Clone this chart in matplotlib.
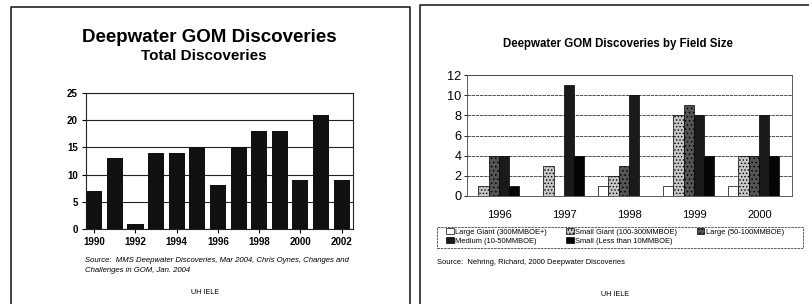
import numpy as np
import matplotlib

matplotlib.use('Agg')
import matplotlib.pyplot as plt
from matplotlib.lines import Line2D
from matplotlib.patches import Patch, Rectangle

plt.rcParams['font.family'] = ['Liberation Sans', 'DejaVu Sans']
plt.rcParams['hatch.linewidth'] = 0.6

# left chart: total discoveries per year
years = [1990, 1991, 1992, 1993, 1994, 1995, 1996, 1997, 1998, 1999, 2000, 2001, 2002]
total = [7, 13, 1, 14, 14, 15, 8, 15, 18, 18, 9, 21, 9]

# right chart: discoveries by field size
size_years = ['1996', '1997', '1998', '1999', '2000']
size_names = ['Large Giant (300MMBOE+)', 'Small Giant (100-300MMBOE)',
              'Large (50-100MMBOE)', 'Medium (10-50MMBOE)',
              'Small (Less than 10MMBOE)']
large_giant = [0, 0, 1, 1, 1]
small_giant = [1, 3, 2, 8, 4]
large = [4, 0, 3, 9, 4]
medium = [4, 11, 10, 8, 8]
small = [1, 4, 0, 4, 4]

W, H = 809, 304
fig = plt.figure(figsize=(W / 100, H / 100), dpi=100)


def fx(px):
    return px / W


def fy(py):
    return 1 - py / H


# slide frames
for xs, ys in [([11, 11, 410, 410], [H, 7, 7, H]),
               ([420, 420, W + 5], [H, 5, 5])]:
    fig.add_artist(Line2D([fx(x) for x in xs], [fy(y) for y in ys],
                          color='#222222', lw=1.2))

# ---- left panel ----
fig.text(fx(209), fy(37), 'Deepwater GOM Discoveries', ha='center', va='center',
         fontsize=13.5, fontweight='bold')
fig.text(fx(204), fy(56), 'Total Discoveries', ha='center', va='center',
         fontsize=11, fontweight='bold')

ax1 = fig.add_axes([fx(86), fy(229), fx(353 - 86), (229 - 93) / H])
ax1.bar(years, total, width=0.78, color='#111111', zorder=3)
ax1.set_xlim(1989.6, 2002.55)
ax1.set_ylim(0, 25)
ax1.set_yticks(range(0, 26, 5))
ax1.set_xticks(range(1990, 2003, 2))
ax1.yaxis.grid(True, color='#222222', lw=0.8, zorder=0)
for s in ax1.spines.values():
    s.set_color('#222222')
    s.set_linewidth(0.8)
ax1.tick_params(length=3, width=0.8, pad=3, labelsize=7)
for lab in ax1.get_xticklabels() + ax1.get_yticklabels():
    lab.set_fontweight('bold')

fig.text(fx(85), fy(261), 'Source:  MMS Deepwater Discoveries, Mar 2004, Chris Oynes, Changes and',
         fontsize=5.6, style='italic', va='center')
fig.text(fx(85), fy(270), 'Challenges in GOM, Jan. 2004',
         fontsize=5.6, style='italic', va='center')
fig.text(fx(205), fy(292), 'UH IELE', fontsize=5.2, ha='center', va='center')

# ---- right panel ----
fig.text(fx(618), fy(44), 'Deepwater GOM Discoveries by Field Size', ha='center',
         va='center', fontsize=8.3, fontweight='bold')

ax2 = fig.add_axes([fx(467), fy(196), fx(792 - 467), (196 - 75) / H])
x = np.arange(len(size_years))
bw = 0.158
series = [large_giant, small_giant, large, medium, small]
fills = ['white', '#c8c8c8', '#555555', '#1a1a1a', '#050505']
hatches = [None, '.....', '....', None, None]
handles = []
for i, (vals, fc, h) in enumerate(zip(series, fills, hatches)):
    ax2.bar(x - 0.09 + (i - 2) * bw, vals, width=bw, color=fc, edgecolor='black',
            linewidth=0.5, hatch=h, zorder=3)
    handles.append(Patch(facecolor=fc, edgecolor='black', linewidth=0.5, hatch=h))
ax2.set_xlim(-0.5, 4.5)
ax2.set_ylim(0, 12)
ax2.set_yticks(range(0, 13, 2))
ax2.set_xticks(x)
ax2.set_xticklabels(size_years)
ax2.yaxis.grid(True, color='#333333', lw=0.6, ls=(0, (4, 1)), zorder=0)
for s in ax2.spines.values():
    s.set_color('#444444')
    s.set_linewidth(0.6)
ax2.tick_params(axis='y', length=2, width=0.6, pad=2, labelsize=9.2)
ax2.tick_params(axis='x', length=0, pad=10, labelsize=8)

# legend box (dashed frame drawn separately)
fig.add_artist(Rectangle((fx(437), fy(248)), fx(803 - 437), 21 / H,
                         fill=False, edgecolor='#444444', lw=0.6,
                         ls=(0, (3, 1))))
order = [0, 3, 1, 4, 2]
leg = fig.legend([handles[i] for i in order], [size_names[i] for i in order],
                 ncol=3, loc='upper left',
                 bbox_to_anchor=(fx(446), fy(228)),
                 fontsize=5.4, frameon=False, handlelength=1.0,
                 handleheight=0.9, handletextpad=0.2, columnspacing=2.6,
                 labelspacing=0.2, borderpad=0, borderaxespad=0)

fig.text(fx(437), fy(262), 'Source:  Nehring, Richard, 2000 Deepwater Discoveries',
         fontsize=5.4, va='center')
fig.text(fx(615), fy(295), 'UH IELE', fontsize=5.2, ha='center', va='center')

fig.savefig('out.png', dpi=100)
